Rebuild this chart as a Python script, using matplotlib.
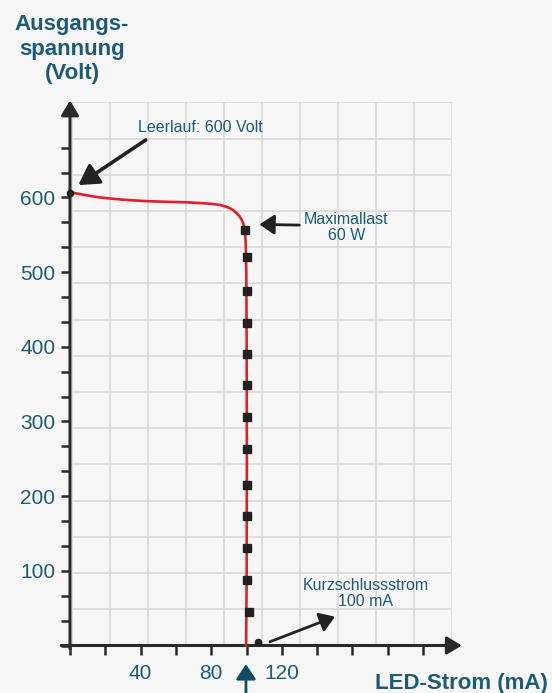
import matplotlib
matplotlib.use("Agg")
import matplotlib.pyplot as plt

# values
curve_ma = [0, 8, 17, 30, 44, 58, 66, 74, 80, 85, 88, 90.7, 92.8, 94.4, 96,
            97.3, 98.2, 98.8, 99.3, 99.6, 99.9, 100.1, 100.2, 100.1, 99.8]
curve_v = [607, 603.5, 600, 597, 595, 594, 593.5, 592.5, 591.5, 590, 588, 585.5,
           582.5, 579, 575, 570, 565, 559, 550, 534, 500, 400, 250, 100, 0]

marker_ma = [99.2, 100.3, 100.3, 100.3, 100.3, 100.3, 100.3, 100.3, 100.3,
             100.3, 100.3, 100.5, 101.2]
marker_v = [557, 520, 475, 432, 391, 349, 306, 263, 215, 173, 131, 88, 45]

leerlauf_pt = (0, 606)
kurzschluss_pt = (106.7, 5)

x_ticks = list(range(0, 201, 20))
x_labels = ["40", "80", "120"]
y_ticks = [k * 100 / 3 for k in range(0, 21)]
y_labels = ["100", "200", "300", "400", "500", "600"]

bg = "#f6f6f6"
teal = "#1d5a74"
dark = "#2a2a2a"
red = "#e31e28"

plt.rcParams["font.family"] = ["Liberation Sans", "DejaVu Sans"]

W, H = 552, 693
fig = plt.figure(figsize=(W / 100, H / 100), dpi=100, facecolor=bg)


def fx(px):
    return px / W


def fy(py):
    return 1 - py / H


# background grid, its own spacing
gax = fig.add_axes([fx(72), fy(645.5), (452 - 72) / W, (645.5 - 102.3) / H])
gax.set_facecolor(bg)
gax.set_xlim(0, 10)
gax.set_ylim(0, 15)
for i in range(0, 11):
    gax.axvline(i, color="#dcdcdc", lw=1.3, zorder=0)
for j in range(0, 16):
    gax.axhline(j, color="#dcdcdc", lw=1.3, zorder=0)
gax.set_axis_off()

# main axes: 0 mA at px 70, 0 V at px 645.5
ax = fig.add_axes([fx(70), fy(645.5), 222 * 1.765 / W, 730 * 0.7467 / H])
ax.patch.set_alpha(0)
ax.set_xlim(0, 222)
ax.set_ylim(0, 730)
for s in ax.spines.values():
    s.set_visible(False)

arrow_axis = dict(arrowstyle="-|>,head_length=0.45,head_width=0.27", color=dark,
                  lw=2.2, mutation_scale=20, shrinkA=0, shrinkB=0)
ax.annotate("", xy=(0, 730), xytext=(0, -4), arrowprops=arrow_axis, annotation_clip=False)
ax.annotate("", xy=(222, 0), xytext=(-5, 0), arrowprops=arrow_axis, annotation_clip=False)

ax.set_xticks(x_ticks)
ax.set_xticklabels([str(t) if str(t) in x_labels else "" for t in x_ticks])
ax.set_yticks(y_ticks)
ax.set_yticklabels([str(int(round(t))) if str(int(round(t))) in y_labels else "" for t in y_ticks])
ax.tick_params(axis="x", direction="out", length=6.5, width=1.8, color=dark,
               labelsize=15, labelcolor=teal, pad=7)
ax.tick_params(axis="y", direction="out", length=6.5, width=1.8, color=dark,
               labelsize=15, labelcolor=teal, pad=4)

# curve and markers
ax.plot(curve_ma, curve_v, color=red, lw=1.9, zorder=3, clip_on=False)
ax.plot(marker_ma, marker_v, ls="none", marker="s", ms=5.8, color="#222222", zorder=4)
ax.plot(*leerlauf_pt, marker="o", ms=4.5, color="#222222", zorder=5, clip_on=False)
ax.plot(*kurzschluss_pt, marker="o", ms=4.5, color="#222222", zorder=5, clip_on=False)

# annotations
ax.text(74.1, 694, "Leerlauf: 600 Volt", color=teal, fontsize=11.5, ha="center", va="center")
ax.annotate("", xy=(4.7, 616.6), xytext=(42.9, 677),
            arrowprops=dict(arrowstyle="-|>,head_length=0.6,head_width=0.35", color="#222222",
                            lw=2.6, mutation_scale=20, shrinkA=0, shrinkB=0))

ax.text(156.5, 560, "Maximallast\n60 W", color=teal, fontsize=11.5, ha="center", va="center",
        linespacing=1.05)
ax.annotate("", xy=(107.3, 564), xytext=(129.9, 563),
            arrowprops=dict(arrowstyle="-|>,head_length=0.45,head_width=0.3", color="#222222",
                            lw=2.0, mutation_scale=20, shrinkA=0, shrinkB=0))

ax.text(167.4, 70, "Kurzschlussstrom\n100 mA", color=teal, fontsize=11.5, ha="center",
        va="center", linespacing=1.05)
ax.annotate("", xy=(150.1, 38.6), xytext=(113.3, 5),
            arrowprops=dict(arrowstyle="-|>,head_length=0.45,head_width=0.3", color="#222222",
                            lw=2.0, mutation_scale=20, shrinkA=0, shrinkB=0))

# teal arrow under the 100 mA position
ax.annotate("", xy=(99.7, -25), xytext=(99.7, -66),
            arrowprops=dict(arrowstyle="-|>,head_length=0.45,head_width=0.3", color="#0f4c64",
                            lw=2.0, mutation_scale=20, shrinkA=0, shrinkB=0),
            annotation_clip=False)

# axis titles
fig.text(fx(72), fy(49), "Ausgangs-\nspannung\n(Volt)", color=teal, fontsize=16,
         fontweight="bold", ha="center", va="center", linespacing=1.2)
fig.text(fx(461), fy(683), "LED-Strom (mA)", color=teal, fontsize=16, fontweight="bold",
         ha="center", va="center")

fig.savefig("out.png", dpi=100, facecolor=bg)
